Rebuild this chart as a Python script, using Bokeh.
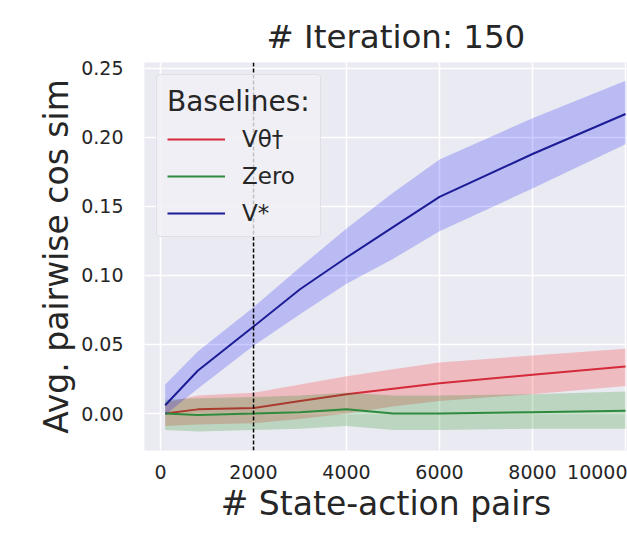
from bokeh.plotting import figure
from bokeh.models import Span, Legend, LegendItem, Range1d, FixedTicker, NumeralTickFormatter
from bokeh.embed import file_html
from bokeh.resources import INLINE

# number of state-action pairs used for the estimate
pairs = [100, 800, 2000, 3000, 4000, 5000, 6000, 8000, 10000]

# V* baseline: mean and spread of the pairwise cosine similarity
vstar_mean = [0.006, 0.031, 0.063, 0.090, 0.113, 0.135, 0.157, 0.188, 0.217]
vstar_low = [-0.001, 0.018, 0.049, 0.072, 0.094, 0.112, 0.132, 0.163, 0.195]
vstar_high = [0.021, 0.045, 0.077, 0.106, 0.134, 0.160, 0.184, 0.214, 0.241]

# V_theta^dagger baseline
vdag_mean = [0.000, 0.003, 0.004, 0.009, 0.014, 0.018, 0.022, 0.028, 0.034]
vdag_low = [-0.009, -0.008, -0.007, -0.004, 0.000, 0.005, 0.009, 0.014, 0.020]
vdag_high = [0.008, 0.013, 0.015, 0.021, 0.027, 0.032, 0.037, 0.042, 0.047]

# Zero baseline
zero_mean = [0.000, -0.001, 0.000, 0.001, 0.003, 0.000, 0.000, 0.001, 0.002]
zero_low = [-0.012, -0.013, -0.012, -0.011, -0.009, -0.012, -0.012, -0.011, -0.011]
zero_high = [0.010, 0.011, 0.012, 0.013, 0.015, 0.013, 0.013, 0.014, 0.016]

cutoff = 2000
x_ticks = [0, 2000, 4000, 6000, 8000, 10000]
y_ticks = [0.00, 0.05, 0.10, 0.15, 0.20, 0.25]

FONT = "DejaVu Sans"
INK = "#262626"

p = figure(
    width=627, height=536,
    x_range=Range1d(-345, 10043), y_range=Range1d(-0.0268, 0.2543),
    output_backend="svg", toolbar_location=None,
    min_border_left=144, min_border_right=0, min_border_top=62, min_border_bottom=86,
    background_fill_color="#EAEAF2", border_fill_color="white",
)
p.outline_line_color = None

# title centred over the full plotting area (which runs past the right edge)
p.title.text = "# Iteration: 150"
p.title.align = "left"
p.title.offset = 122
p.title.text_font = FONT
p.title.text_font_size = "32.5px"
p.title.text_font_style = "normal"
p.title.text_color = INK
p.title.standoff = 13

for ax in (p.xaxis[0], p.yaxis[0]):
    ax.axis_line_color = None
    ax.major_tick_line_color = None
    ax.minor_tick_line_color = None
    ax.major_label_text_font = FONT
    ax.major_label_text_font_size = "19px"
    ax.major_label_text_color = INK
    ax.axis_label_text_font = FONT
    ax.axis_label_text_font_size = "33px"
    ax.axis_label_text_font_style = "normal"
    ax.axis_label_text_color = INK

p.xaxis.ticker = FixedTicker(ticks=x_ticks)
p.yaxis.ticker = FixedTicker(ticks=y_ticks)
p.yaxis.formatter = NumeralTickFormatter(format="0.00")
p.xaxis.major_label_standoff = 8
p.yaxis.major_label_standoff = 15
p.xaxis.axis_label = "# State-action pairs"
p.yaxis.axis_label = "Avg. pairwise cos sim"
p.xaxis.axis_label_standoff = 2
p.yaxis.axis_label_standoff = 2

p.grid.grid_line_color = "white"
p.grid.grid_line_width = 1.5

series = [
    ("V\u03b8\u2020", vdag_mean, vdag_low, vdag_high, "#d42a3a", "red"),
    ("Zero", zero_mean, zero_low, zero_high, "#2e8b3e", "green"),
    ("V*", vstar_mean, vstar_low, vstar_high, "#1c1c96", "blue"),
]

items = []
for name, mean, low, high, line_col, band_col in series:
    p.varea(x=pairs, y1=low, y2=high, fill_color=band_col, fill_alpha=0.2)
    r = p.line(x=pairs, y=mean, line_color=line_col, line_width=2)
    items.append(LegendItem(label=name, renderers=[r]))

p.add_layout(Span(location=cutoff, dimension="height", line_color="black",
                  line_width=1.5, line_dash="4 2"))

legend = Legend(items=items, location="top_left", title="Baselines:")
legend.margin = 12
legend.padding = 10
legend.spacing = 11
legend.title_text_font = FONT
legend.title_text_font_size = "28px"
legend.title_text_font_style = "normal"
legend.title_text_color = INK
legend.title_standoff = 8
legend.label_text_font = FONT
legend.label_text_font_size = "23px"
legend.label_text_color = INK
legend.label_standoff = 17
legend.glyph_width = 58
legend.glyph_height = 22
legend.label_height = 22
legend.background_fill_color = "#F0F0F5"
legend.background_fill_alpha = 0.8
legend.border_line_color = "#cfcfd6"
legend.border_radius = 4
p.add_layout(legend)

open("out.html", "w").write(file_html(p, INLINE))
